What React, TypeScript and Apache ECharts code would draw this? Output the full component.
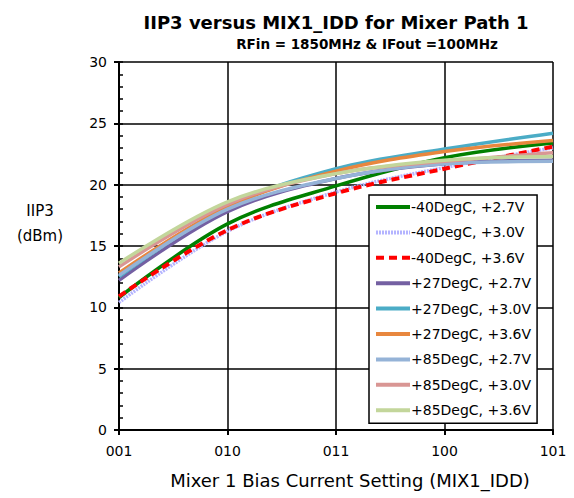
import React, { useEffect, useRef } from "react";
import * as echarts from "echarts";

const categories = ["001", "010", "011", "100", "101"];
const seriesNames = [
  "-40DegC, +2.7V",
  "-40DegC, +3.0V",
  "-40DegC, +3.6V",
  "+27DegC, +2.7V",
  "+27DegC, +3.0V",
  "+27DegC, +3.6V",
  "+85DegC, +2.7V",
  "+85DegC, +3.0V",
  "+85DegC, +3.6V",
];
const m40_27 = [10.8, 16.8, 19.9, 22.2, 23.4];
const m40_30 = [10.4, 16.2, 19.4, 21.4, 23.0];
const m40_36 = [10.9, 16.3, 19.3, 21.3, 23.1];
const p27_27 = [12.2, 17.8, 20.5, 21.7, 22.0];
const p27_30 = [12.5, 18.2, 21.3, 22.9, 24.2];
const p27_36 = [12.8, 18.2, 21.1, 22.7, 23.6];
const p85_27 = [12.6, 18.0, 20.5, 21.7, 21.9];
const p85_30 = [13.3, 18.4, 20.9, 21.9, 22.6];
const p85_36 = [13.6, 18.6, 20.9, 22.0, 22.3];
const allData = [m40_27, m40_30, m40_36, p27_27, p27_30, p27_36, p85_27, p85_30, p85_36];
const colors = ["#008000", "#b4b4ff", "#ff0000", "#7460a2", "#4bacc6", "#e8873e", "#95b3d7", "#d99694", "#c3d69b"];
const lineTypes: any[] = ["solid", [2, 1], [8, 5], "solid", "solid", "solid", "solid", "solid", "solid"];

const FONT = "DejaVu Sans, sans-serif";

export default function App() {
  const ref = useRef<HTMLDivElement>(null);
  useEffect(() => {
    const chart = echarts.init(ref.current!, null, { renderer: "svg" });
    const series = allData.map((d, i) => ({
      name: seriesNames[i],
      type: "line",
      data: d,
      smooth: 0.35,
      symbol: "none",
      xAxisIndex: 0,
      yAxisIndex: 0,
      lineStyle: { color: colors[i], width: i === 2 ? 4 : 3.5, type: lineTypes[i] },
      itemStyle: { color: colors[i] },
    }));
    chart.setOption({
      animation: false,
      backgroundColor: "#ffffff",
      textStyle: { fontFamily: FONT, color: "#000" },
      title: [
        {
          text: "IIP3 versus MIX1_IDD for Mixer Path 1",
          left: 331,
          top: 8,
          textAlign: "center",
          textStyle: { fontSize: 18, fontWeight: "bold", fontFamily: FONT, color: "#000" },
        },
        {
          text: "RFin = 1850MHz & IFout =100MHz",
          left: 362,
          top: 32,
          textAlign: "center",
          textStyle: { fontSize: 13.5, fontWeight: "bold", fontFamily: FONT, color: "#000" },
        },
      ],
      graphic: [
        {
          type: "text",
          x: 40,
          y: 198,
          style: {
            text: "IIP3\n(dBm)",
            font: "15px " + FONT,
            fill: "#000",
            textAlign: "center",
            lineHeight: 25,
          },
        },
      ],
      legend: {
        orient: "vertical",
        left: 369,
        top: 195,
        backgroundColor: "#fff",
        borderColor: "#000",
        borderWidth: 1.5,
        borderRadius: 0,
        padding: [5, 6, 6, 5],
        itemWidth: 34,
        itemHeight: 14,
        itemGap: 11.4,
        itemStyle: { opacity: 0 },
        lineStyle: { width: 4 },
        textStyle: { fontSize: 14, fontFamily: FONT, color: "#000", padding: [0, 0, 0, -4] },
        data: seriesNames,
      },
      grid: { left: 119, right: 21, top: 62, bottom: 68, containLabel: false },
      xAxis: [
        {
          type: "category",
          data: categories,
          boundaryGap: false,
          name: "Mixer 1 Bias Current Setting (MIX1_IDD)",
          nameLocation: "middle",
          nameGap: 41,
          nameTextStyle: {
            fontSize: 18,
            fontFamily: FONT,
            color: "#000",
            verticalAlign: "top",
            padding: [0, 0, 0, 28],
          },
          axisLine: { lineStyle: { color: "#000", width: 2 } },
          axisTick: { show: true, length: 5, lineStyle: { color: "#000", width: 2 } },
          axisLabel: { fontSize: 14, fontFamily: FONT, color: "#000", margin: 14 },
          splitLine: { show: true, lineStyle: { color: "#000", width: 1.5 } },
        },
      ],
      yAxis: [
        {
          type: "value",
          min: 0,
          max: 30,
          interval: 5,
          axisLine: { show: true, lineStyle: { color: "#000", width: 2 } },
          axisTick: { show: true, length: 5, lineStyle: { color: "#000", width: 2 } },
          axisLabel: { fontSize: 14, fontFamily: FONT, color: "#000", margin: 12 },
          splitLine: { show: true, lineStyle: { color: "#000", width: 1.5 } },
        },
        {
          type: "value",
          min: 0,
          max: 30,
          interval: 1,
          position: "left",
          axisLine: { show: false },
          axisTick: { show: true, inside: true, length: 4, lineStyle: { color: "#000", width: 1.5 } },
          axisLabel: { show: false },
          splitLine: { show: false },
        },
      ],
      series,
    });
    return () => chart.dispose();
  }, []);
  return (
    <div
      ref={ref}
      style={{ position: "absolute", left: 0, top: 0, width: 574, height: 498 }}
    />
  );
}
